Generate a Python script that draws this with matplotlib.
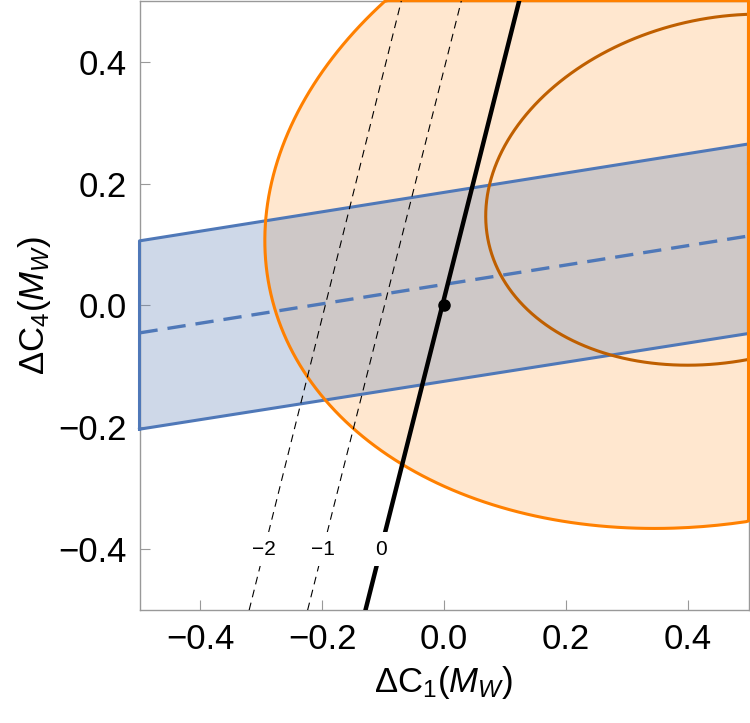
import numpy as np
import matplotlib.pyplot as plt
from matplotlib.ticker import FuncFormatter

plt.rcParams['font.family'] = ['Liberation Sans', 'DejaVu Sans']
plt.rcParams['mathtext.fontset'] = 'custom'
plt.rcParams['mathtext.rm'] = 'Liberation Sans'
plt.rcParams['mathtext.it'] = 'Liberation Sans:italic'

# fit ellipses (center, widths, correlation)
ell_center = (0.4585, 0.19)
ell_sx = 0.390
ell_sy = 0.288
ell_rho = 0.15
ell_scales = [1.0, 1.93]   # inner (brown) and outer (orange) contour
ell_colors = ['#bf5f00', '#ff8000']

# blue band: lines at x = -0.5 and x = 0.5
band_x = [-0.5, 0.5]
band_upper = [0.106, 0.265]
band_lower = [-0.203, -0.046]
band_mid = [-0.045, 0.114]

# contour lines: x at y = -0.5 and at y = 0.5
cont_y = [-0.5, 0.5]
cont_x_bot = [-0.129, -0.224, -0.320]
cont_x_top = [0.1235, 0.0285, -0.070]
cont_labels = ['0', '\u22121', '\u22122']
label_y = -0.4

ticks = [-0.4, -0.2, 0.0, 0.2, 0.4]

fig = plt.figure(figsize=(7.5, 7.23), dpi=100)
ax = fig.add_axes([0.186, 0.156, 0.812, 0.843])
ax.set_xlim(-0.5, 0.5)
ax.set_ylim(-0.5, 0.5)


def ellipse(scale):
    t = np.linspace(0, 2 * np.pi, 600)
    cx, cy = ell_center
    x = cx + scale * ell_sx * np.cos(t)
    y = cy + scale * ell_sy * (ell_rho * np.cos(t) + np.sqrt(1 - ell_rho ** 2) * np.sin(t))
    # clamp to the frame, like a region plot does
    return np.clip(x, -0.5, 0.5), np.clip(y, -0.5, 0.5)


def fmt(v, pos):
    return ('%.1f' % v).replace('-', '\u2212')


# orange region fill
ox, oy = ellipse(ell_scales[1])
ax.fill(ox, oy, color='#ff8000', alpha=0.19, lw=0, zorder=1)

# blue band fill + edges
bx = [band_x[0], band_x[1], band_x[1], band_x[0]]
by = [band_lower[0], band_lower[1], band_upper[1], band_upper[0]]
ax.fill(bx, by, color='#5e81b5', alpha=0.3, lw=0, zorder=2)
ax.plot(bx + [bx[0]], by + [by[0]], color='#4f78b8', lw=2.2, zorder=3, clip_on=False)
ax.plot(band_x, band_mid, color='#4f78b8', lw=2.4, ls=(0, (5.5, 3)), zorder=3)

# ellipse outlines
for s, c in zip(ell_scales, ell_colors):
    ex, ey = ellipse(s)
    ax.plot(ex, ey, color=c, lw=2.2, zorder=4, clip_on=False)

# contour lines with labels
for i in range(len(cont_labels)):
    xs = [cont_x_bot[i], cont_x_top[i]]
    if i == 0:
        ax.plot(xs, cont_y, color='black', lw=3.2, zorder=5)
    else:
        ax.plot(xs, cont_y, color='black', lw=0.8, ls=(0, (7, 5)), zorder=5)
    lx = np.interp(label_y, cont_y, xs)
    ax.text(lx, label_y, cont_labels[i], fontsize=15, ha='center', va='center', zorder=6,
            bbox=dict(boxstyle='square,pad=0.35', fc='white', ec='none'))

ax.plot([0], [0], 'o', color='black', ms=8, zorder=7)

ax.set_xticks(ticks)
ax.set_yticks(ticks)
ax.xaxis.set_major_formatter(FuncFormatter(fmt))
ax.yaxis.set_major_formatter(FuncFormatter(fmt))
ax.tick_params(direction='in', length=7, width=0.8, color='#999999', labelsize=25, pad=9)
for sp in ax.spines.values():
    sp.set_color('#999999')
    sp.set_linewidth(1.0)

ax.set_xlabel(r'$\Delta\mathrm{C}_1(M_W)$', fontsize=25, labelpad=6)
ax.set_ylabel(r'$\Delta\mathrm{C}_4(M_W)$', fontsize=25, labelpad=4)

fig.savefig('out.png', dpi=100)
